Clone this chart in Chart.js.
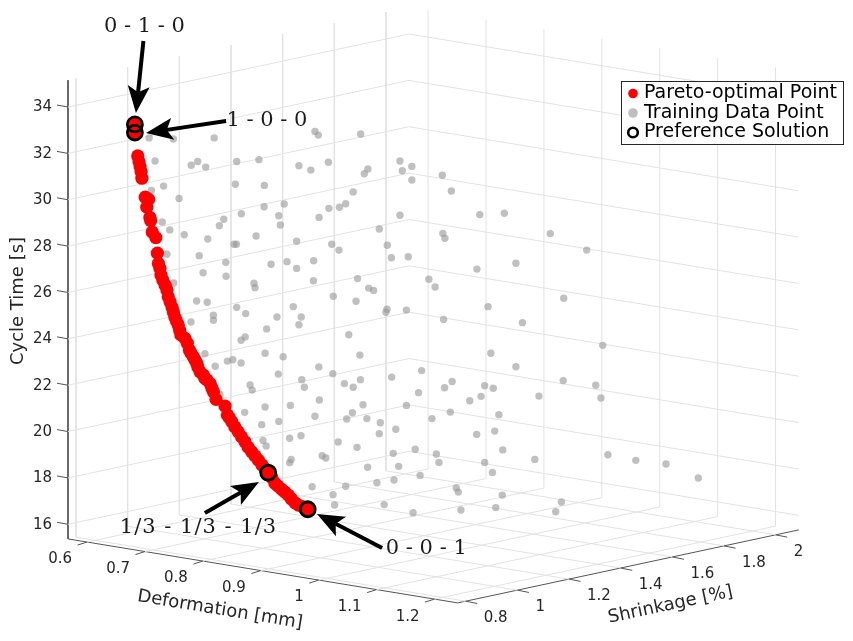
<!DOCTYPE html>
<html>
<head>
<meta charset="utf-8">
<style>
  html, body { margin: 0; padding: 0; background: #fff; }
  #wrap { width: 853px; height: 641px; }
</style>
<script src="https://cdn.jsdelivr.net/npm/chart.js@4"></script>
</head>
<body>
<div id="wrap"><canvas id="chart" width="853" height="641"></canvas></div>
<script>
// Axis limits and ticks of the 3D box
const deformationLim = [0.567, 1.24]
const shrinkageLim = [0.769, 2.089]
const cycleLim = [15.37, 35.16]
const deformationTicks = [0.6, 0.7, 0.8, 0.9, 1, 1.1, 1.2]
const shrinkageTicks = [0.8, 1, 1.2, 1.4, 1.6, 1.8, 2]
const cycleTicks = [16, 18, 20, 22, 24, 26, 28, 30, 32, 34]

// Points as seen in the view: x is shrinkage and y is cycle time read on the left wall plane
const paretoX = [1.028, 1.028, 1.039, 1.044, 1.048, 1.052, 1.055, 1.068, 1.081, 1.074, 1.086, 1.089, 1.095, 1.109, 1.115, 1.119, 1.125, 1.129, 1.136, 1.145, 1.152, 1.157, 1.164, 1.172, 1.177, 1.183, 1.189, 1.196, 1.201, 1.206, 1.222, 1.231, 1.239, 1.245, 1.254, 1.261, 1.267, 1.272, 1.280, 1.293, 1.299, 1.307, 1.319, 1.326, 1.332, 1.342, 1.377, 1.386, 1.394, 1.403, 1.415, 1.428, 1.441, 1.454, 1.466, 1.480, 1.493, 1.506, 1.520, 1.532, 1.544, 1.559, 1.570, 1.582, 1.596, 1.609, 1.622, 1.634, 1.648, 1.661, 1.679, 1.697]
const paretoY = [33.25, 32.90, 31.89, 31.64, 31.43, 31.21, 30.93, 30.11, 30.02, 29.68, 29.24, 29.10, 28.61, 28.37, 27.70, 27.25, 27.04, 26.75, 26.54, 26.32, 26.11, 25.82, 25.60, 25.36, 25.16, 24.93, 24.77, 24.60, 24.38, 24.17, 24.02, 23.81, 23.52, 23.39, 23.23, 23.09, 22.95, 22.79, 22.58, 22.44, 22.30, 22.23, 22.08, 21.88, 21.72, 21.39, 21.10, 20.72, 20.59, 20.43, 20.20, 19.99, 19.77, 19.56, 19.33, 19.13, 18.95, 18.77, 18.56, 18.39, 18.23, 18.00, 17.77, 17.65, 17.51, 17.39, 17.26, 17.09, 16.93, 16.83, 16.75, 16.65]

const trainingX = [1.083, 1.177, 1.335, 1.725, 1.738, 1.106, 1.246, 1.271, 1.302, 1.422, 1.508, 1.663, 1.709, 1.092, 1.139, 1.199, 1.417, 1.529, 1.528, 1.606, 1.440, 1.585, 1.372, 1.134, 1.741, 1.902, 1.777, 2.054, 2.100, 2.063, 1.930, 1.916, 2.100, 2.218, 2.253, 1.873, 1.844, 1.820, 1.779, 2.054, 2.363, 2.458, 1.355, 1.163, 1.219, 1.310, 1.412, 1.421, 1.152, 1.277, 1.380, 1.292, 1.381, 1.178, 1.591, 1.497, 1.654, 1.790, 1.818, 1.555, 1.617, 1.720, 1.654, 1.489, 1.493, 1.719, 1.890, 1.796, 1.884, 1.267, 1.308, 1.422, 1.457, 1.641, 1.332, 1.332, 1.578, 1.672, 1.245, 1.663, 1.538, 1.455, 1.439, 1.856, 1.299, 1.532, 1.602, 1.899, 1.407, 1.386, 1.439, 1.339, 1.740, 1.583, 1.794, 1.674, 1.974, 2.220, 2.228, 2.636, 2.005, 2.021, 2.086, 2.777, 2.503, 2.352, 2.166, 2.190, 1.933, 1.952, 2.688, 2.395, 2.004, 2.000, 2.079, 2.223, 2.528, 2.839, 2.406, 2.503, 2.138, 2.022, 2.256, 2.686, 1.901, 1.839, 1.873, 1.684, 1.474, 1.482, 2.126, 1.357, 1.742, 1.532, 1.630, 1.911, 2.079, 1.453, 1.870, 1.725, 1.848, 1.926, 1.585, 1.519, 1.978, 2.038, 1.974, 1.671, 1.627, 1.524, 1.536, 1.815, 1.888, 2.028, 2.113, 1.753, 1.767, 1.633, 1.627, 1.929, 2.049, 2.132, 2.031, 1.965, 1.844, 1.714, 1.795, 1.801, 1.993, 2.105, 2.227, 2.382, 2.415, 2.812, 2.592, 2.832, 2.368, 2.324, 2.249, 2.437, 2.178, 2.421, 2.351, 2.452, 2.859, 2.967, 3.084, 3.209, 2.195, 2.205, 2.382, 2.576, 2.412, 2.272, 2.280, 2.450, 2.679, 2.425, 2.290, 2.657]
const trainingY = [32.67, 32.62, 32.67, 32.95, 32.79, 31.67, 31.49, 31.65, 31.41, 31.65, 31.73, 31.47, 31.28, 30.40, 30.59, 30.06, 30.67, 30.62, 29.70, 29.82, 29.40, 29.31, 29.16, 29.04, 29.24, 32.84, 31.62, 31.67, 31.44, 31.25, 31.33, 31.12, 30.85, 31.06, 30.38, 30.34, 29.83, 29.68, 29.63, 29.33, 29.36, 29.42, 28.88, 28.70, 28.49, 28.31, 28.08, 28.08, 27.65, 27.59, 27.30, 26.85, 26.70, 26.41, 28.91, 28.44, 28.21, 28.08, 27.83, 27.22, 27.33, 27.37, 27.04, 26.40, 26.21, 26.51, 26.60, 25.84, 25.62, 25.63, 25.58, 25.36, 25.09, 25.39, 25.02, 24.80, 24.94, 24.94, 24.73, 24.61, 24.43, 24.08, 23.94, 24.18, 23.36, 23.38, 23.23, 23.30, 23.10, 23.04, 22.96, 22.82, 22.79, 22.48, 22.50, 22.24, 28.74, 28.55, 28.34, 28.54, 28.04, 27.50, 27.54, 27.83, 27.26, 27.01, 26.57, 26.24, 26.19, 26.09, 25.75, 25.39, 25.28, 25.15, 25.24, 24.84, 24.70, 23.72, 23.38, 22.80, 22.63, 22.35, 22.16, 22.20, 22.24, 22.07, 21.91, 21.91, 22.01, 21.79, 21.68, 21.61, 21.36, 21.06, 21.13, 21.16, 21.13, 20.83, 20.81, 20.66, 20.54, 20.56, 20.44, 20.30, 20.38, 20.10, 19.91, 19.82, 19.71, 19.62, 19.38, 19.55, 19.32, 19.06, 19.24, 18.96, 18.86, 18.80, 18.66, 18.46, 18.50, 18.11, 17.91, 17.79, 17.64, 17.62, 17.28, 16.83, 16.85, 16.50, 21.89, 21.98, 21.87, 22.00, 21.53, 21.45, 21.52, 21.33, 20.84, 20.73, 20.56, 20.02, 19.88, 19.21, 19.00, 18.76, 18.60, 18.00, 19.03, 18.67, 18.67, 18.80, 18.24, 17.57, 17.39, 17.26, 16.96, 16.72, 16.62, 16.54]

const preferenceX = [1.028, 1.028, 1.544, 1.697]
const preferenceY = [33.25, 32.90, 18.23, 16.65]

// Annotations: label, label position, arrow tail, arrow tip
const annotationText = ['0 - 1 - 0', '1 - 0 - 0', '1/3 - 1/3 - 1/3', '0 - 0 - 1']
const annotationAt = [[1.065, 37.50], [1.539, 33.48], [1.274, 15.90], [2.156, 14.98]]
const arrowTail = [[1.061, 36.85], [1.381, 33.40], [1.299, 16.49], [1.985, 14.98]]
const arrowTip = [[1.032, 33.74], [1.071, 32.88], [1.508, 17.82], [1.733, 16.44]]

const legendText = ['Pareto-optimal Point', 'Training Data Point', 'Preference Solution']

const textColor = '#262626'
const gridColor = '#e2e2e2'
const axisColor = '#555555'

// orthographic view of the box, the left wall is the picture plane
function project (d, s, z) {
  const dd = d - deformationLim[0]
  const ds = s - shrinkageLim[0]
  return { x: s + dd * 2.2416, y: z - dd * 4.103 + ds * 2.386 }
}

function zip (xs, ys) {
  return xs.map((x, i) => ({ x: x, y: ys[i] }))
}

function line (points, color, width) {
  return {
    type: 'scatter', data: points, showLine: true, pointRadius: 0,
    borderColor: color, borderWidth: width, order: 10, fill: false
  }
}

const [d0, d1] = deformationLim
const [s0, s1] = shrinkageLim
const [z0, z1] = cycleLim

const gridLines = []
cycleTicks.forEach((z) => {
  gridLines.push(line([project(d0, s0, z), project(d0, s1, z), project(d1, s1, z)], gridColor, 1))
})
shrinkageTicks.forEach((s) => {
  gridLines.push(line([project(d0, s, z1), project(d0, s, z0), project(d1, s, z0)], gridColor, 1))
})
deformationTicks.forEach((d) => {
  gridLines.push(line([project(d, s0, z0), project(d, s1, z0), project(d, s1, z1)], gridColor, 1))
})

const axisLines = [
  line([project(d0, s0, z1), project(d0, s0, z0), project(d1, s0, z0), project(d1, s1, z0)], axisColor, 1)
]
cycleTicks.forEach((z) => {
  const p = project(d0, s0, z)
  axisLines.push(line([p, { x: p.x - 0.0426, y: p.y + 0.086 }], axisColor, 1))
})
deformationTicks.forEach((d) => {
  const p = project(d, s0, z0)
  axisLines.push(line([p, { x: p.x - 0.0368, y: p.y - 0.129 }], axisColor, 1))
})
shrinkageTicks.forEach((s) => {
  const p = project(d1, s, z0)
  axisLines.push(line([p, { x: p.x + 0.0445, y: p.y - 0.099 }], axisColor, 1))
})

function drawArrow (ctx, tail, tip) {
  const a = Math.atan2(tip.y - tail.y, tip.x - tail.x)
  const ux = Math.cos(a)
  const uy = Math.sin(a)
  const len = 27
  const half = 11
  const notch = 21
  ctx.strokeStyle = '#000'
  ctx.fillStyle = '#000'
  ctx.lineWidth = 4
  ctx.beginPath()
  ctx.moveTo(tail.x, tail.y)
  ctx.lineTo(tip.x - ux * notch, tip.y - uy * notch)
  ctx.stroke()
  ctx.beginPath()
  ctx.moveTo(tip.x, tip.y)
  ctx.lineTo(tip.x - ux * len - uy * half, tip.y - uy * len + ux * half)
  ctx.lineTo(tip.x - ux * notch, tip.y - uy * notch)
  ctx.lineTo(tip.x - ux * len + uy * half, tip.y - uy * len - ux * half)
  ctx.closePath()
  ctx.fill()
}

function rotatedText (ctx, text, x, y, angle) {
  ctx.save()
  ctx.translate(x, y)
  ctx.rotate(angle)
  ctx.fillText(text, 0, 0)
  ctx.restore()
}

const boxLabels = {
  id: 'boxLabels',
  afterDatasetsDraw (chart) {
    const ctx = chart.ctx
    const xs = chart.scales.x
    const ys = chart.scales.y
    const px = (p) => ({ x: xs.getPixelForValue(p.x), y: ys.getPixelForValue(p.y) })

    ctx.save()
    ctx.fillStyle = textColor
    ctx.textBaseline = 'middle'

    // tick labels
    ctx.font = '15px "DejaVu Sans"'
    ctx.textAlign = 'right'
    cycleTicks.forEach((z) => {
      const p = px(project(d0, s0, z))
      ctx.fillText(String(z), p.x - 16, p.y + 0.5)
    })
    deformationTicks.forEach((d) => {
      const p = px(project(d, s0, z0))
      ctx.fillText(String(d), p.x - 15, p.y + 17.5)
    })
    ctx.textAlign = 'left'
    shrinkageTicks.forEach((s) => {
      const p = px(project(d1, s, z0))
      ctx.fillText(String(s), p.x + 18, p.y + 17)
    })

    // axis titles
    ctx.font = '18px "DejaVu Sans"'
    ctx.textAlign = 'center'
    rotatedText(ctx, 'Deformation [mm]', 220, 610, 9.3 * Math.PI / 180)
    rotatedText(ctx, 'Shrinkage [%]', 670.5, 605, -12 * Math.PI / 180)
    rotatedText(ctx, 'Cycle Time [s]', 18, 301, -Math.PI / 2)

    // arrows and weight labels
    arrowTail.forEach((t, i) => {
      drawArrow(ctx, px({ x: t[0], y: t[1] }), px({ x: arrowTip[i][0], y: arrowTip[i][1] }))
    })
    ctx.fillStyle = '#1a1a1a'
    ctx.font = '21px "DejaVu Serif"'
    annotationText.forEach((t, i) => {
      const p = px({ x: annotationAt[i][0], y: annotationAt[i][1] })
      ctx.letterSpacing = t.length > 10 ? '1px' : '0px'
      ctx.fillText(t, p.x, p.y + 1)
    })
    ctx.letterSpacing = '0px'

    // legend box
    ctx.fillStyle = '#fff'
    ctx.strokeStyle = textColor
    ctx.lineWidth = 1
    ctx.fillRect(621.5, 81.5, 222, 63)
    ctx.strokeRect(621.5, 81.5, 222, 63)
    const rows = [93.5, 113, 132.5]
    ctx.font = '19px "DejaVu Sans"'
    ctx.textAlign = 'left'
    ctx.fillStyle = '#000'
    legendText.forEach((t, i) => ctx.fillText(t, 644, rows[i]))
    ctx.fillStyle = '#ff0000'
    ctx.beginPath()
    ctx.arc(633, rows[0], 4.8, 0, Math.PI * 2)
    ctx.fill()
    ctx.fillStyle = '#bfbfbf'
    ctx.beginPath()
    ctx.arc(633, rows[1], 4.8, 0, Math.PI * 2)
    ctx.fill()
    ctx.strokeStyle = '#000'
    ctx.lineWidth = 2.6
    ctx.beginPath()
    ctx.arc(633, rows[2], 4.8, 0, Math.PI * 2)
    ctx.stroke()
    ctx.restore()
  }
}

new Chart(document.getElementById('chart').getContext('2d'), {
  type: 'scatter',
  data: {
    datasets: [
      ...gridLines,
      ...axisLines,
      {
        label: legendText[1],
        data: zip(trainingX, trainingY),
        pointRadius: 3.7,
        pointBorderWidth: 0,
        pointBackgroundColor: 'rgba(150, 150, 150, 0.6)',
        order: 5
      },
      {
        label: legendText[0],
        data: zip(paretoX, paretoY),
        pointRadius: 6.6,
        pointBorderWidth: 0,
        pointBackgroundColor: '#ff0000',
        order: 3
      },
      {
        label: legendText[2],
        data: zip(preferenceX, preferenceY),
        pointRadius: 7.5,
        pointBorderWidth: 2.8,
        pointBorderColor: '#000',
        pointBackgroundColor: 'rgba(0, 0, 0, 0)',
        order: 1
      }
    ]
  },
  options: {
    responsive: false,
    animation: false,
    events: [],
    layout: { padding: 0, autoPadding: false },
    plugins: { legend: { display: false }, tooltip: { enabled: false } },
    scales: {
      x: { type: 'linear', display: false, min: 0.5058, max: 3.8078 },
      y: { type: 'linear', display: false, min: 10.966, max: 38.618 }
    }
  },
  plugins: [boxLabels]
})
</script>
</body>
</html>
